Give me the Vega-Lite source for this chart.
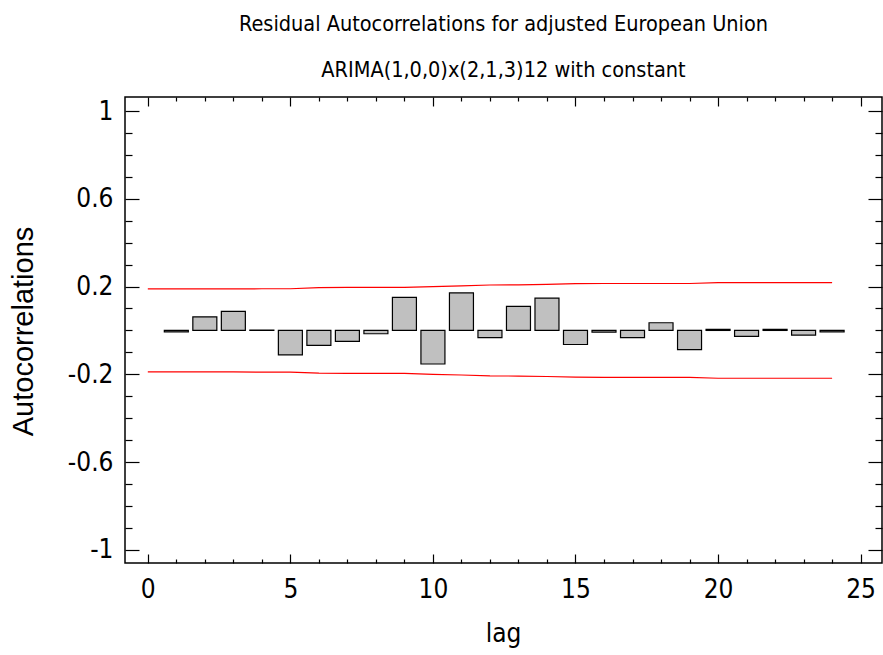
{
  "$schema": "https://vega.github.io/schema/vega-lite/v6.json",
  "autosize": "none",
  "width": 757,
  "height": 466,
  "padding": {"left": 125, "top": 97, "right": 1, "bottom": 92},
  "background": "white",
  "config": {
    "font": "DejaVu Sans Condensed, sans-serif",
    "view": {"stroke": "black", "strokeWidth": 1.5},
    "axis": {
      "domain": false,
      "grid": false,
      "tickColor": "black",
      "tickWidth": 1.2,
      "labelColor": "black",
      "labelFont": "DejaVu Sans Condensed, sans-serif",
      "labelFontSize": 26,
      "labelFlush": false,
      "labelOverlap": false,
      "labelBound": false,
      "titleColor": "black",
      "titleFontWeight": "normal"
    }
  },
  "title": {
    "text": ["Residual Autocorrelations for adjusted European Union", "ARIMA(1,0,0)x(2,1,3)12 with constant"],
    "font": "DejaVu Sans Condensed, sans-serif",
    "fontSize": 21.5,
    "fontWeight": "normal",
    "color": "black",
    "lineHeight": 46,
    "anchor": "middle",
    "offset": 15
  },
  "datasets": {
    "acf": [
      {"lag": 1, "acf": -0.007},
      {"lag": 2, "acf": 0.062},
      {"lag": 3, "acf": 0.087},
      {"lag": 4, "acf": 0.002},
      {"lag": 5, "acf": -0.111},
      {"lag": 6, "acf": -0.068},
      {"lag": 7, "acf": -0.050},
      {"lag": 8, "acf": -0.015},
      {"lag": 9, "acf": 0.151},
      {"lag": 10, "acf": -0.153},
      {"lag": 11, "acf": 0.171},
      {"lag": 12, "acf": -0.033},
      {"lag": 13, "acf": 0.110},
      {"lag": 14, "acf": 0.147},
      {"lag": 15, "acf": -0.064},
      {"lag": 16, "acf": -0.008},
      {"lag": 17, "acf": -0.033},
      {"lag": 18, "acf": 0.035},
      {"lag": 19, "acf": -0.087},
      {"lag": 20, "acf": 0.005},
      {"lag": 21, "acf": -0.027},
      {"lag": 22, "acf": 0.005},
      {"lag": 23, "acf": -0.021},
      {"lag": 24, "acf": -0.007}
    ],
    "limits": [
      {"lag": 0, "band": "upper", "limit": 0.189},
      {"lag": 1, "band": "upper", "limit": 0.189},
      {"lag": 2, "band": "upper", "limit": 0.189},
      {"lag": 3, "band": "upper", "limit": 0.189},
      {"lag": 4, "band": "upper", "limit": 0.190},
      {"lag": 5, "band": "upper", "limit": 0.190},
      {"lag": 6, "band": "upper", "limit": 0.195},
      {"lag": 7, "band": "upper", "limit": 0.196},
      {"lag": 8, "band": "upper", "limit": 0.196},
      {"lag": 9, "band": "upper", "limit": 0.196},
      {"lag": 10, "band": "upper", "limit": 0.200},
      {"lag": 11, "band": "upper", "limit": 0.203},
      {"lag": 12, "band": "upper", "limit": 0.207},
      {"lag": 13, "band": "upper", "limit": 0.208},
      {"lag": 14, "band": "upper", "limit": 0.210},
      {"lag": 15, "band": "upper", "limit": 0.213},
      {"lag": 16, "band": "upper", "limit": 0.214},
      {"lag": 17, "band": "upper", "limit": 0.214},
      {"lag": 18, "band": "upper", "limit": 0.214},
      {"lag": 19, "band": "upper", "limit": 0.214},
      {"lag": 20, "band": "upper", "limit": 0.218},
      {"lag": 21, "band": "upper", "limit": 0.218},
      {"lag": 22, "band": "upper", "limit": 0.218},
      {"lag": 23, "band": "upper", "limit": 0.218},
      {"lag": 24, "band": "upper", "limit": 0.218},
      {"lag": 0, "band": "lower", "limit": -0.189},
      {"lag": 1, "band": "lower", "limit": -0.189},
      {"lag": 2, "band": "lower", "limit": -0.189},
      {"lag": 3, "band": "lower", "limit": -0.189},
      {"lag": 4, "band": "lower", "limit": -0.190},
      {"lag": 5, "band": "lower", "limit": -0.190},
      {"lag": 6, "band": "lower", "limit": -0.195},
      {"lag": 7, "band": "lower", "limit": -0.196},
      {"lag": 8, "band": "lower", "limit": -0.196},
      {"lag": 9, "band": "lower", "limit": -0.196},
      {"lag": 10, "band": "lower", "limit": -0.200},
      {"lag": 11, "band": "lower", "limit": -0.203},
      {"lag": 12, "band": "lower", "limit": -0.207},
      {"lag": 13, "band": "lower", "limit": -0.208},
      {"lag": 14, "band": "lower", "limit": -0.210},
      {"lag": 15, "band": "lower", "limit": -0.213},
      {"lag": 16, "band": "lower", "limit": -0.214},
      {"lag": 17, "band": "lower", "limit": -0.214},
      {"lag": 18, "band": "lower", "limit": -0.214},
      {"lag": 19, "band": "lower", "limit": -0.214},
      {"lag": 20, "band": "lower", "limit": -0.218},
      {"lag": 21, "band": "lower", "limit": -0.218},
      {"lag": 22, "band": "lower", "limit": -0.218},
      {"lag": 23, "band": "lower", "limit": -0.218},
      {"lag": 24, "band": "lower", "limit": -0.218}
    ]
  },
  "resolve": {"axis": {"x": "independent", "y": "independent"}},
  "layer": [
    {
      "data": {"name": "acf"},
      "mark": {"type": "bar", "orient": "vertical", "size": 24, "fill": "#c0c0c0", "stroke": "black", "strokeWidth": 1.2},
      "encoding": {
        "x": {
          "field": "lag", "type": "quantitative",
          "scale": {"domain": [-0.8, 25.75], "nice": false, "zero": false, "padding": 0},
          "axis": {
            "orient": "bottom",
            "values": [0,1,2,3,4,5,6,7,8,9,10,11,12,13,14,15,16,17,18,19,20,21,22,23,24,25],
            "tickSize": {"condition": {"test": "datum.value % 5 == 0", "value": -9}, "value": -4},
            "labelPadding": 22,
            "labelExpr": "datum.value % 5 == 0 ? datum.label : ''",
            "title": "lag",
            "titleFont": "DejaVu Sans Condensed, sans-serif",
            "titleFontSize": 26,
            "titleX": 378,
            "titleY": 70,
            "titleBaseline": "middle",
            "titleAlign": "center"
          }
        },
        "y": {
          "field": "acf", "type": "quantitative",
          "scale": {"domain": [-1.06, 1.064], "nice": false, "zero": false, "padding": 0},
          "axis": {
            "orient": "left",
            "values": [-1,-0.9,-0.8,-0.7,-0.6,-0.5,-0.4,-0.3,-0.2,-0.1,0,0.1,0.2,0.3,0.4,0.5,0.6,0.7,0.8,0.9,1],
            "tickSize": {"condition": {"test": "round((datum.value+1)*10) % 4 == 0", "value": -14}, "value": -7},
            "labelPadding": 26,
            "labelExpr": "round((datum.value+1)*10) % 4 == 0 ? '' + datum.value : ''",
            "title": "Autocorrelations",
            "titleFont": "Liberation Sans, Arial, sans-serif",
            "titleFontSize": 29,
            "titleAngle": -90,
            "titleX": -102,
            "titleY": 234,
            "titleBaseline": "middle",
            "titleAlign": "center"
          }
        },
        "y2": {"datum": 0}
      }
    },
    {
      "data": {"name": "limits"},
      "mark": {"type": "line", "color": "#ff0000", "strokeWidth": 1.2},
      "encoding": {
        "x": {
          "field": "lag", "type": "quantitative",
          "axis": {
            "orient": "top",
            "values": [0,1,2,3,4,5,6,7,8,9,10,11,12,13,14,15,16,17,18,19,20,21,22,23,24,25],
            "tickSize": {"condition": {"test": "datum.value % 5 == 0", "value": -9}, "value": -4},
            "labels": false,
            "title": null
          }
        },
        "y": {
          "field": "limit", "type": "quantitative",
          "axis": {
            "orient": "right",
            "values": [-1,-0.9,-0.8,-0.7,-0.6,-0.5,-0.4,-0.3,-0.2,-0.1,0,0.1,0.2,0.3,0.4,0.5,0.6,0.7,0.8,0.9,1],
            "tickSize": {"condition": {"test": "round((datum.value+1)*10) % 4 == 0", "value": -14}, "value": -7},
            "labels": false,
            "title": null
          }
        },
        "detail": {"field": "band", "type": "nominal"}
      }
    }
  ]
}
